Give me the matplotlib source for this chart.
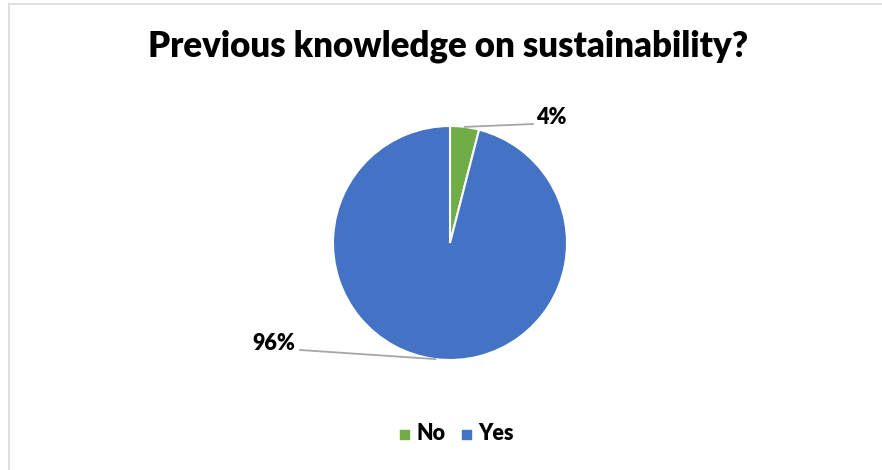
import numpy as np
import matplotlib.pyplot as plt
from matplotlib.patches import Rectangle
from matplotlib.lines import Line2D

categories = ["No", "Yes"]
shares = [4, 96]
colors = ["#70AD47", "#4472C4"]

W, H = 882, 470
fig = plt.figure(figsize=(W / 100, H / 100), dpi=100)
ax = fig.add_axes([0, 0, 1, 1])

# chart frame (top and left edges visible)
ax.add_line(Line2D([9, W], [H - 4, H - 4], color="#D9D9D9", lw=1.2))
ax.add_line(Line2D([9, 9], [0, H - 4], color="#D9D9D9", lw=1.2))

font = "Lato"
ax.text(448, H - 46, "Previous knowledge on sustainability?", ha="center", va="center",
        fontsize=25, fontweight="heavy", family=font, color="black")

cx, cy, r = 450, H - 243, 117
wedges, _ = ax.pie(shares, colors=colors, startangle=90, counterclock=False,
                   center=(cx, cy), radius=r, explode=[0.03, 0],
                   wedgeprops=dict(edgecolor="white", linewidth=1.5))
ax.set_xlim(0, W)
ax.set_ylim(0, H)
ax.set_aspect("equal")
ax.axis("off")

# percentage labels with leader lines
label_pos = [(551, H - 117), (274, H - 344)]
line_end = [(533, H - 124), (300, H - 350)]
for w, val, (tx, ty), (lx, ly) in zip(wedges, shares, label_pos, line_end):
    ang = np.deg2rad((w.theta1 + w.theta2) / 2)
    x0 = w.center[0] + w.r * np.cos(ang)
    y0 = w.center[1] + w.r * np.sin(ang)
    ax.add_line(Line2D([x0, lx], [y0, ly], color="#A6A6A6", lw=1.3))
    ax.text(tx, ty, f"{val}%", ha="center", va="center", fontsize=15.5,
            fontweight="heavy", family=font, color="black")

# legend
leg_items = [(404, categories[0], colors[0]), (466, categories[1], colors[1])]
ly = H - 434
for x, name, c in leg_items:
    ax.add_patch(Rectangle((x - 4.5, ly - 4.5), 9, 9, color=c))
    ax.text(x + 12, ly, name, ha="left", va="center", fontsize=15.5,
            fontweight="heavy", family=font, color="black")

fig.savefig("out.png", dpi=100)
